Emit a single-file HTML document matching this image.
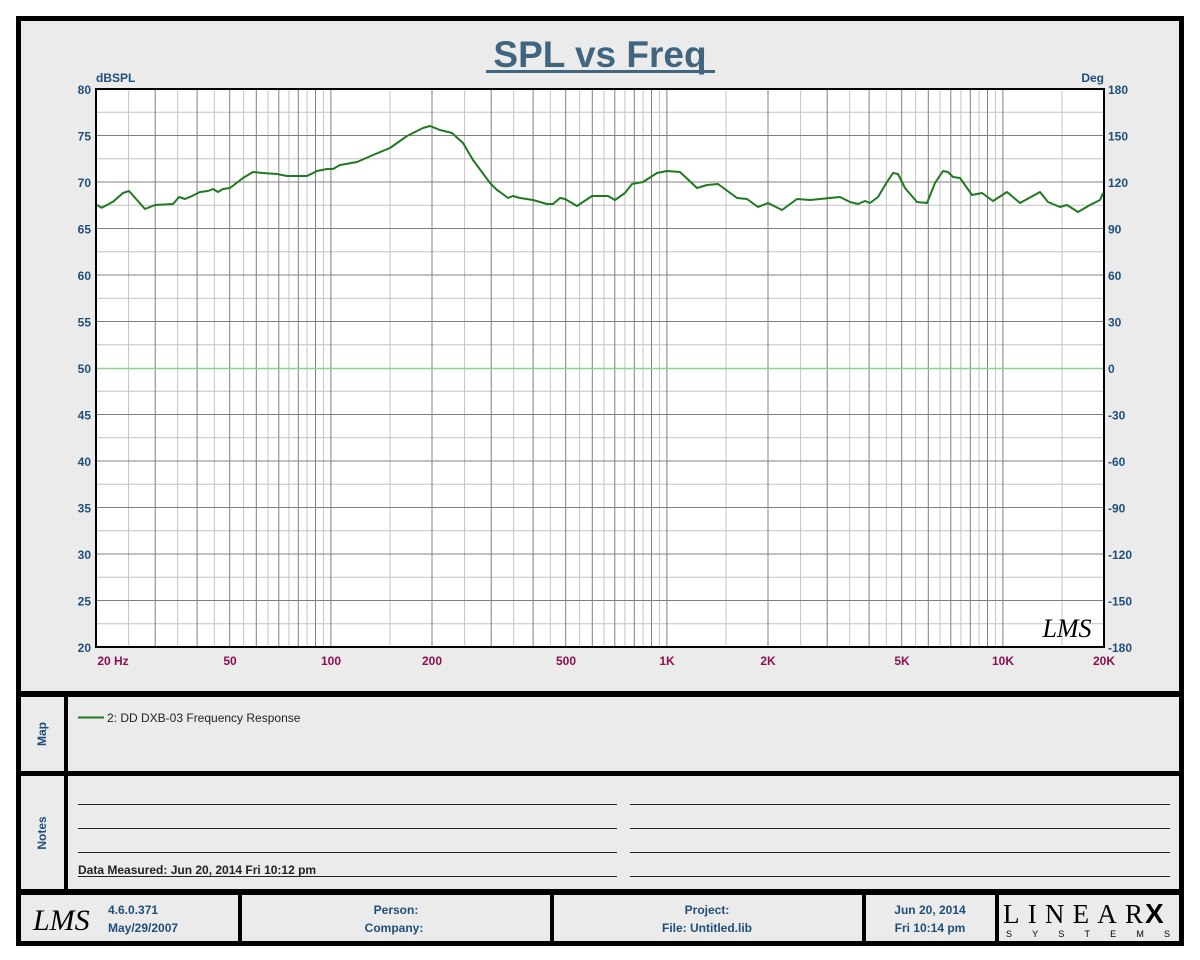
<!DOCTYPE html>
<html><head><meta charset="utf-8"><style>
html,body{margin:0;padding:0;background:#fff;}
svg{display:block;font-family:"Liberation Sans",Arial,sans-serif;}
</style></head><body>
<svg width="1200" height="960" viewBox="0 0 1200 960" xmlns="http://www.w3.org/2000/svg">
<rect x="0" y="0" width="1200" height="960" fill="#fff"/>
<rect x="18.5" y="18.5" width="1163" height="925" fill="#ebebeb" stroke="#000" stroke-width="5"/>
<!-- section dividers -->
<rect x="18" y="691" width="1164" height="6" fill="#000"/>
<rect x="18" y="771" width="1164" height="5" fill="#000"/>
<rect x="18" y="889" width="1164" height="6" fill="#000"/>
<rect x="64" y="694" width="4" height="198" fill="#000"/>
<rect x="238" y="892" width="4" height="52" fill="#000"/>
<rect x="550" y="892" width="4" height="52" fill="#000"/>
<rect x="862" y="892" width="4" height="52" fill="#000"/>
<rect x="995" y="892" width="4" height="52" fill="#000"/>

<!-- title -->
<text x="600" y="67" text-anchor="middle" font-size="37" font-weight="bold" fill="#41657f">SPL vs Freq</text>
<rect x="486" y="70" width="229" height="3" fill="#41657f"/>

<!-- plot area -->
<rect x="96" y="89" width="1008" height="558" fill="#fff"/>
<g stroke="#c4c4c4" stroke-width="1">
<path d="M128.6 89V647M177.7 89V647M214.3 89V647M243.6 89V647M268 89V647M288.9 89V647M307.1 89V647M323.4 89V647M390 89V647M464.6 89V647M513.7 89V647M550.3 89V647M579.6 89V647M604 89V647M624.9 89V647M643.1 89V647M659.4 89V647M726 89V647M800.6 89V647M849.7 89V647M886.3 89V647M915.6 89V647M940 89V647M960.9 89V647M979.1 89V647M995.4 89V647M1062 89V647"/>
<path d="M96 112.25H1104M96 158.75H1104M96 205.25H1104M96 251.75H1104M96 298.25H1104M96 344.75H1104M96 391.25H1104M96 437.75H1104M96 484.25H1104M96 530.75H1104M96 577.25H1104M96 623.75H1104"/>
</g>
<g stroke="#808080" stroke-width="1">
<path d="M155.2 89V647M197.1 89V647M229.7 89V647M256.3 89V647M278.8 89V647M298.3 89V647M315.5 89V647M330.9 89V647M432 89V647M491.2 89V647M533.1 89V647M565.7 89V647M592.3 89V647M614.8 89V647M634.3 89V647M651.5 89V647M666.9 89V647M768 89V647M827.2 89V647M869.1 89V647M901.7 89V647M928.3 89V647M950.8 89V647M970.3 89V647M987.5 89V647M1002.9 89V647"/>
<path d="M96 135.5H1104M96 182H1104M96 228.5H1104M96 275H1104M96 321.5H1104M96 414.5H1104M96 461H1104M96 507.5H1104M96 554H1104M96 600.5H1104"/>
</g>
<path d="M96 368.5H1104" stroke="#8fd08f" stroke-width="1.5"/>
<rect x="96" y="89" width="1008" height="558" fill="none" stroke="#000" stroke-width="2"/>

<!-- curve -->
<polyline fill="none" stroke="#1f7a1f" stroke-width="2" stroke-linejoin="round" points="
96.7,205 101.7,207.7 113,201.7 123,193 129,191 145,209 155,205 173,204 179,197 185,199 192,196 200,192 208,191 213,189 218,192 223,189 230,188 243,178 253,172 263,173 277,174 287,176 307,176 317,171 327,169 333,169 340,165 357,162 373,155 390,148 407,136 423,128 430,126 440,130 452,133 463,143 473,160 490,183 497,190 500,192 508,198 513,196 520,198 533,200 547,204 553,204 560,198 565,199 577,206 592,196 608,196 615,200 625,193 632,184 643,182 657,173 667,171 680,172 697,188 707,185 718,184 737,198 747,199 758,207 768,203 782,210 797,199 810,200 820,199 840,197 850,202 858,204 865,201 870,203 878,197 887,182 893,173 898,174 905,188 917,202 927,203 935,183 943,171 948,172 953,177 960,178 972,195 982,193 993,201 1007,192 1020,203 1040,192 1048,202 1060,207 1067,205 1078,212 1090,205 1100,200 1103,193"/>

<!-- LMS watermark -->
<text x="1067" y="637" text-anchor="middle" font-size="26" font-style="italic" fill="#000" font-family="Liberation Serif,serif">LMS</text>

<!-- axis labels -->
<g font-size="12" font-weight="bold" fill="#1f4e79">
<text x="96" y="82">dBSPL</text>
<text x="1104" y="82" text-anchor="end">Deg</text>
<g text-anchor="end">
<text x="91" y="94">80</text><text x="91" y="140.5">75</text><text x="91" y="187">70</text><text x="91" y="233.5">65</text><text x="91" y="280">60</text><text x="91" y="326.5">55</text><text x="91" y="373">50</text><text x="91" y="419.5">45</text><text x="91" y="466">40</text><text x="91" y="512.5">35</text><text x="91" y="559">30</text><text x="91" y="605.5">25</text><text x="91" y="652">20</text>
</g>
<g>
<text x="1108" y="94">180</text><text x="1108" y="140.5">150</text><text x="1108" y="187">120</text><text x="1108" y="233.5">90</text><text x="1108" y="280">60</text><text x="1108" y="326.5">30</text><text x="1108" y="373">0</text><text x="1108" y="419.5">-30</text><text x="1108" y="466">-60</text><text x="1108" y="512.5">-90</text><text x="1108" y="559">-120</text><text x="1108" y="605.5">-150</text><text x="1108" y="652">-180</text>
</g>
</g>
<g font-size="12" font-weight="bold" fill="#8b1050" text-anchor="middle">
<text x="113" y="665">20  Hz</text><text x="230" y="665">50</text><text x="331" y="665">100</text><text x="432" y="665">200</text><text x="566" y="665">500</text><text x="667" y="665">1K</text><text x="768" y="665">2K</text><text x="902" y="665">5K</text><text x="1003" y="665">10K</text><text x="1104" y="665">20K</text>
</g>

<!-- map -->
<text transform="translate(46 734) rotate(-90)" text-anchor="middle" font-size="12" font-weight="bold" fill="#1f4e79">Map</text>
<path d="M78 717.5H104" stroke="#1f7a1f" stroke-width="2"/>
<text x="107" y="722" font-size="12" fill="#222">2: DD DXB-03 Frequency Response</text>

<!-- notes -->
<text transform="translate(46 833) rotate(-90)" text-anchor="middle" font-size="12" font-weight="bold" fill="#1f4e79">Notes</text>
<g stroke="#222" stroke-width="1">
<path d="M78 804.5H617M78 828.5H617M78 852.5H617M78 876.5H617M630 804.5H1170M630 828.5H1170M630 852.5H1170M630 876.5H1170"/>
</g>
<text x="78" y="874" font-size="12" font-weight="bold" fill="#222">Data Measured: Jun 20, 2014  Fri 10:12 pm</text>

<!-- footer -->
<text x="33" y="930" font-size="30" font-style="italic" fill="#000" font-family="Liberation Serif,serif">LMS</text>
<g font-size="12" font-weight="bold" fill="#1f4e79">
<text x="108" y="914">4.6.0.371</text><text x="108" y="932">May/29/2007</text>
<text x="396" y="914" text-anchor="middle">Person:</text><text x="394" y="932" text-anchor="middle">Company:</text>
<text x="707" y="914" text-anchor="middle">Project:</text><text x="707" y="932" text-anchor="middle">File: Untitled.lib</text>
<text x="930" y="914" text-anchor="middle">Jun 20, 2014</text><text x="930" y="932" text-anchor="middle">Fri 10:14 pm</text>
</g>
<text x="1003" y="923" font-size="27" fill="#000" font-family="Liberation Serif,serif" textLength="140" lengthAdjust="spacing">LINEAR</text>
<text x="1145" y="923" font-size="28" font-weight="bold" fill="#000">X</text>
<text x="1006" y="937" font-size="9" fill="#000" textLength="164" lengthAdjust="spacing">SYSTEMS</text>
</svg>
</body></html>
